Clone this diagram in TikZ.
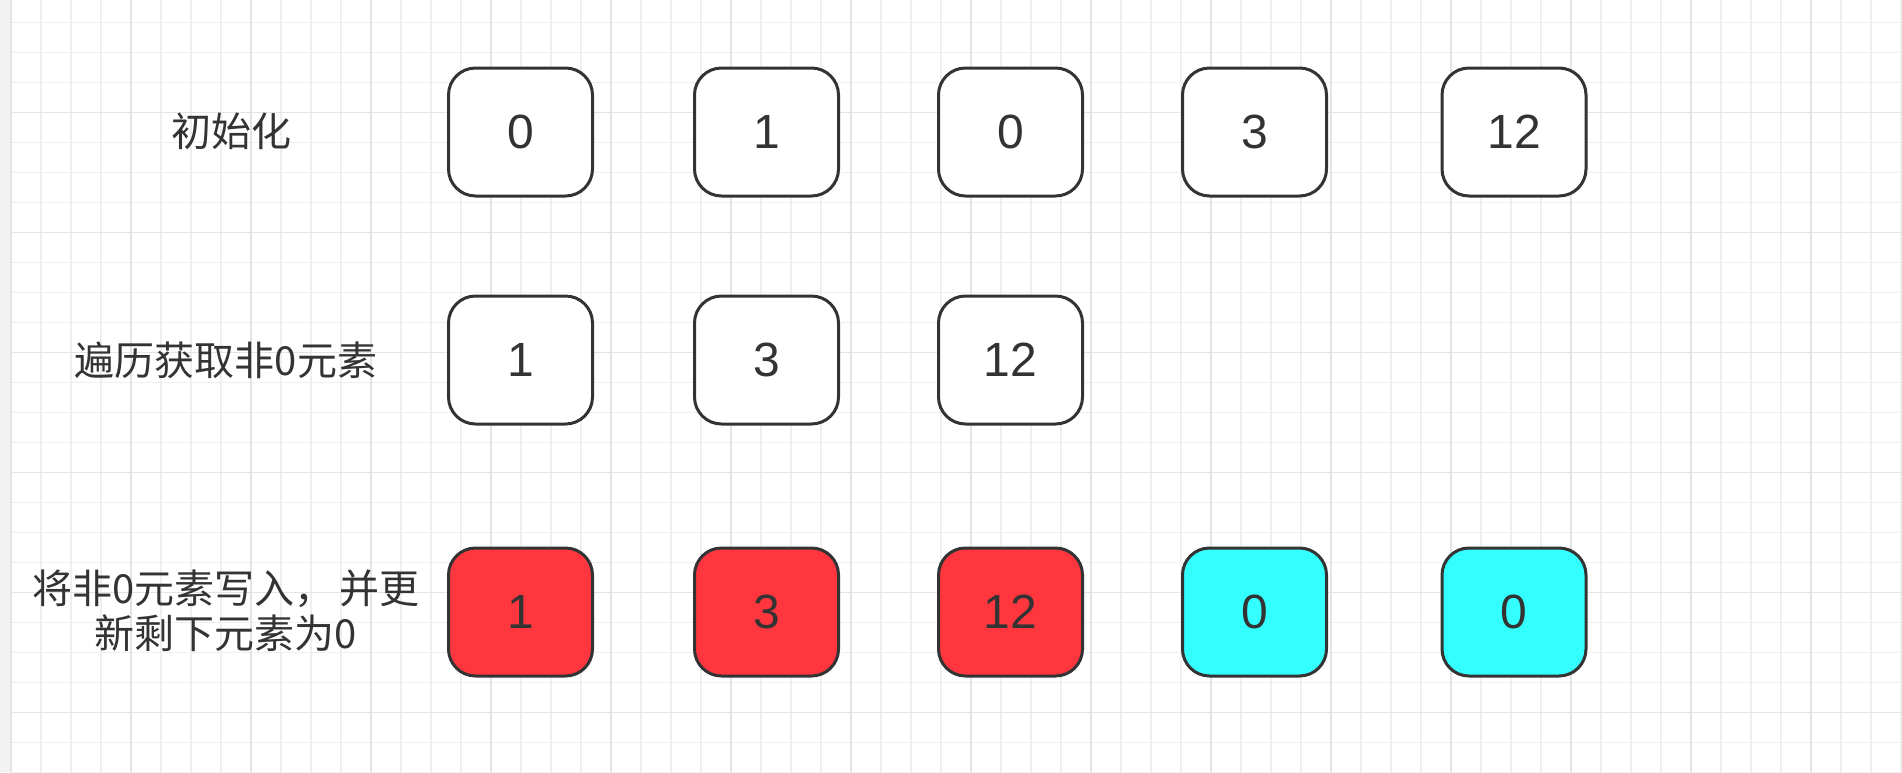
\documentclass[tikz,border=0pt]{standalone}
\usepackage{fontspec}
\setmainfont{Liberation Sans}
\newfontfamily\cjk{Noto Sans CJK SC}
\definecolor{gridminor}{HTML}{EFEFEF}
\definecolor{gridmajor}{HTML}{E4E4E4}
\definecolor{strip}{HTML}{F2F2F2}
\definecolor{txt}{HTML}{333333}
\definecolor{boxred}{HTML}{FF363E}
\definecolor{boxcyan}{HTML}{33FFFF}
\tikzset{
  cell/.style={draw=txt, line width=3pt, rounded corners=27pt, fill=white,
    minimum width=144pt, minimum height=128pt, inner sep=0pt,
    text=txt, font=\fontsize{48}{58}\selectfont},
  redcell/.style={cell, fill=boxred},
  cyancell/.style={cell, fill=boxcyan},
  rowlabel/.style={text=txt, align=center, inner sep=0pt,
    font=\cjk\fontsize{40}{45}\selectfont},
}
\begin{document}
\begin{tikzpicture}[x=1pt,y=-1pt]
\useasboundingbox (0,0) rectangle (1902,772);
\fill[white] (0,0) rectangle (1902,772);
\fill[strip] (0,0) rectangle (10,772);
\foreach \i in {0,...,63} {\draw[gridminor, line width=1.4pt] ({11+30*\i},0) -- ({11+30*\i},772);}
\foreach \i in {0,...,25} {\draw[gridminor, line width=1.4pt] (10,{22.7+30*\i}) -- (1902,{22.7+30*\i});}
\foreach \i in {0,...,15} {\draw[gridmajor, line width=1.4pt] ({11+120*\i},0) -- ({11+120*\i},772);}
\foreach \i in {0,...,5} {\draw[gridmajor, line width=1.4pt] (10,{112.7+120*\i}) -- (1902,{112.7+120*\i});}

\node[rowlabel] (la) at (231,131) {初始化};
\node[rowlabel] (lb) at (226,360) {遍历获取非0元素};
\node[rowlabel] (lc) at (226,611) {将非0元素写入，\hspace{0.12em}并更\\新剩下元素为0};

\node[cell] (a1) at (520.5,132) {0};
\node[cell] (a2) at (766.5,132) {1};
\node[cell] (a3) at (1010.5,132) {0};
\node[cell] (a4) at (1254.5,132) {3};
\node[cell] (a5) at (1514,132) {12};

\node[cell] (b1) at (520.5,360) {1};
\node[cell] (b2) at (766.5,360) {3};
\node[cell] (b3) at (1010.5,360) {12};

\node[redcell] (c1) at (520.5,612) {1};
\node[redcell] (c2) at (766.5,612) {3};
\node[redcell] (c3) at (1010.5,612) {12};
\node[cyancell] (c4) at (1254.5,612) {0};
\node[cyancell] (c5) at (1514,612) {0};
\end{tikzpicture}
\end{document}
